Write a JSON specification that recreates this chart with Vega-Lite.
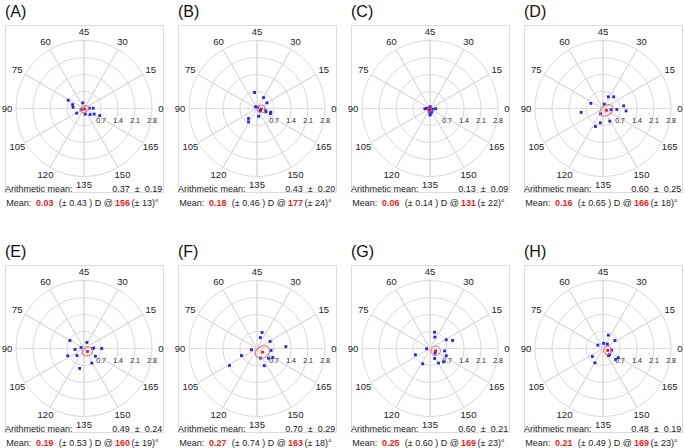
{
"$schema": "https://vega.github.io/schema/vega-lite/v6.json",
"background": "white",
"padding": {"left": 1, "top": 3, "right": 0, "bottom": 0},
"config": {
 "axis": {"disable": true},
 "legend": {"disable": true},
 "view": {"stroke": "#dcdcdc", "strokeWidth": 1},
 "text": {"font": "Liberation Sans", "fontSize": 9, "color": "#222"},
 "title": {"font": "Liberation Sans", "fontSize": 16, "fontWeight": "normal", "anchor": "start", "frame": "group", "offset": 5, "baseline": "bottom", "color": "#111"}
},
"datasets": {
 "rings": [{"r": 0.7}, {"r": 1.4}, {"r": 2.1}, {"r": 2.8}],
 "spokes": [{"deg": 0}, {"deg": 15}, {"deg": 30}, {"deg": 45}, {"deg": 60}, {"deg": 75}, {"deg": 90}, {"deg": 105}, {"deg": 120}, {"deg": 135}, {"deg": 150}, {"deg": 165}],
 "pts": [
  {"panel":"A","x":-0.65,"y":0.34},{"panel":"A","x":-0.47,"y":0.16},{"panel":"A","x":-0.45,"y":0.05},{"panel":"A","x":-0.05,"y":0.23},{"panel":"A","x":0.22,"y":0.01},{"panel":"A","x":0.38,"y":0.01},{"panel":"A","x":-0.30,"y":-0.19},{"panel":"A","x":0.05,"y":-0.23},{"panel":"A","x":0.25,"y":-0.25},{"panel":"A","x":0.42,"y":-0.23},{"panel":"A","x":0.65,"y":-0.29},{"panel":"A","x":-0.12,"y":-0.04},
  {"panel":"B","x":-0.10,"y":0.66},{"panel":"B","x":0.27,"y":0.45},{"panel":"B","x":0.41,"y":0.23},{"panel":"B","x":-0.06,"y":0.07},{"panel":"B","x":0.03,"y":0.05},{"panel":"B","x":0.34,"y":-0.07},{"panel":"B","x":0.37,"y":-0.13},{"panel":"B","x":0.57,"y":-0.15},{"panel":"B","x":0.55,"y":-0.21},{"panel":"B","x":0.14,"y":-0.08},{"panel":"B","x":0.07,"y":-0.32},{"panel":"B","x":-0.35,"y":-0.41},{"panel":"B","x":-0.35,"y":-0.55},
  {"panel":"C","x":-0.21,"y":-0.01},{"panel":"C","x":-0.11,"y":0.01},{"panel":"C","x":0.01,"y":0.07},{"panel":"C","x":0.10,"y":-0.03},{"panel":"C","x":0.23,"y":-0.01},{"panel":"C","x":-0.03,"y":-0.12},{"panel":"C","x":0.07,"y":-0.15},{"panel":"C","x":0.01,"y":-0.23},{"panel":"C","x":0.0,"y":-0.27},{"panel":"C","x":0.0,"y":-0.04},
  {"panel":"D","x":0.22,"y":0.48},{"panel":"D","x":0.44,"y":0.48},{"panel":"D","x":-0.50,"y":0.21},{"panel":"D","x":0.05,"y":0.18},{"panel":"D","x":0.85,"y":0.11},{"panel":"D","x":0.57,"y":-0.04},{"panel":"D","x":0.95,"y":-0.10},{"panel":"D","x":0.33,"y":-0.05},{"panel":"D","x":-0.10,"y":-0.22},{"panel":"D","x":-0.90,"y":-0.16},{"panel":"D","x":0.28,"y":-0.52},{"panel":"D","x":-0.11,"y":-0.59},{"panel":"D","x":-0.31,"y":-0.74},
  {"panel":"E","x":-0.58,"y":0.33},{"panel":"E","x":0.12,"y":0.25},{"panel":"E","x":-0.12,"y":0.04},{"panel":"E","x":-0.37,"y":-0.04},{"panel":"E","x":0.35,"y":0.0},{"panel":"E","x":0.40,"y":0.02},{"panel":"E","x":0.73,"y":0.0},{"panel":"E","x":-0.67,"y":-0.30},{"panel":"E","x":-0.29,"y":-0.29},{"panel":"E","x":0.47,"y":-0.32},{"panel":"E","x":0.32,"y":-0.60},{"panel":"E","x":-0.18,"y":-0.82},
  {"panel":"F","x":0.21,"y":0.66},{"panel":"F","x":0.14,"y":0.45},{"panel":"F","x":0.54,"y":0.29},{"panel":"F","x":1.19,"y":0.08},{"panel":"F","x":-0.23,"y":-0.05},{"panel":"F","x":0.58,"y":-0.08},{"panel":"F","x":-0.64,"y":-0.29},{"panel":"F","x":0.14,"y":-0.40},{"panel":"F","x":0.47,"y":-0.40},{"panel":"F","x":0.65,"y":-0.37},{"panel":"F","x":0.30,"y":-0.71},{"panel":"F","x":-1.13,"y":-0.70},
  {"panel":"G","x":0.19,"y":0.67},{"panel":"G","x":0.20,"y":0.47},{"panel":"G","x":0.67,"y":0.36},{"panel":"G","x":0.93,"y":0.33},{"panel":"G","x":-0.14,"y":-0.01},{"panel":"G","x":0.60,"y":-0.10},{"panel":"G","x":-0.60,"y":-0.26},{"panel":"G","x":0.67,"y":-0.30},{"panel":"G","x":0.19,"y":-0.41},{"panel":"G","x":0.35,"y":-0.60},{"panel":"G","x":0.56,"y":-0.55},{"panel":"G","x":-0.30,"y":-0.63},{"panel":"G","x":0.21,"y":-0.19},
  {"panel":"H","x":0.22,"y":0.55},{"panel":"H","x":0.49,"y":0.33},{"panel":"H","x":0.03,"y":0.21},{"panel":"H","x":-0.21,"y":0.14},{"panel":"H","x":0.18,"y":0.18},{"panel":"H","x":0.36,"y":-0.07},{"panel":"H","x":0.27,"y":-0.25},{"panel":"H","x":0.23,"y":-0.29},{"panel":"H","x":-0.44,"y":-0.33},{"panel":"H","x":-0.33,"y":-0.59},{"panel":"H","x":0.52,"y":-0.45},{"panel":"H","x":0.63,"y":-0.38}
 ],
 "means": [
  {"panel":"A","x":0.020,"y":-0.022},{"panel":"B","x":0.179,"y":-0.019},{"panel":"C","x":-0.008,"y":-0.059},{"panel":"D","x":0.141,"y":-0.075},
  {"panel":"E","x":0.146,"y":-0.122},{"panel":"F","x":0.224,"y":-0.151},{"panel":"G","x":0.232,"y":-0.094},{"panel":"H","x":0.195,"y":-0.079}
 ],
 "txt": [
  {"panel":"A","arith":"0.37\u00a0\u00a0±\u00a0\u00a00.19","m":"0.03","msd":"(±\u00a00.43\u00a0)\u00a0D\u00a0@","ang":"156","asd":"(±\u00a013)°"},
  {"panel":"B","arith":"0.43\u00a0\u00a0±\u00a0\u00a00.20","m":"0.18","msd":"(±\u00a00.46\u00a0)\u00a0D\u00a0@","ang":"177","asd":"(±\u00a024)°"},
  {"panel":"C","arith":"0.13\u00a0\u00a0±\u00a0\u00a00.09","m":"0.06","msd":"(±\u00a00.14\u00a0)\u00a0D\u00a0@","ang":"131","asd":"(±\u00a022)°"},
  {"panel":"D","arith":"0.60\u00a0\u00a0±\u00a0\u00a00.25","m":"0.16","msd":"(±\u00a00.65\u00a0)\u00a0D\u00a0@","ang":"166","asd":"(±\u00a018)°"},
  {"panel":"E","arith":"0.49\u00a0\u00a0±\u00a0\u00a00.24","m":"0.19","msd":"(±\u00a00.53\u00a0)\u00a0D\u00a0@","ang":"160","asd":"(±\u00a019)°"},
  {"panel":"F","arith":"0.70\u00a0\u00a0±\u00a0\u00a00.29","m":"0.27","msd":"(±\u00a00.74\u00a0)\u00a0D\u00a0@","ang":"163","asd":"(±\u00a018)°"},
  {"panel":"G","arith":"0.60\u00a0\u00a0±\u00a0\u00a00.21","m":"0.25","msd":"(±\u00a00.60\u00a0)\u00a0D\u00a0@","ang":"169","asd":"(±\u00a023)°"},
  {"panel":"H","arith":"0.48\u00a0\u00a0±\u00a0\u00a00.19","m":"0.21","msd":"(±\u00a00.49\u00a0)\u00a0D\u00a0@","ang":"169","asd":"(±\u00a023)°"}
 ]
},
"columns": 4,
"spacing": {"row": 73, "column": 15},
"bounds": "flush",
"concat": [
 {"width":158,"height":167,"title":{"text":"(A)"},"data":{"name":"txt"},"transform":[{"filter":"datum.panel==='A'"}],
  "layer":[
   {"data":{"name":"rings"},"mark":{"type":"point","shape":"circle","filled":false,"color":"#dadada","strokeWidth":1,"opacity":1},"encoding":{"x":{"datum":0,"type":"quantitative","scale":{"domain":[-3.2529,3.2529],"nice":false,"zero":false}},"y":{"datum":0,"type":"quantitative","scale":{"domain":[-3.4382,3.4382],"nice":false,"zero":false}},"size":{"field":"r","type":"quantitative","scale":{"type":"pow","exponent":2,"domain":[0,2.8],"range":[0,18496],"zero":true}}}},
   {"data":{"name":"spokes"},"mark":{"type":"arc","filled":false,"color":"#dadada","stroke":"#dadada","strokeWidth":1},"encoding":{"theta":{"field":"deg","type":"quantitative","stack":false,"scale":{"type":"linear","domain":[0,180],"range":[1.5708,-4.7124],"zero":false,"nice":false}},"theta2":{"field":"deg"},"radius":{"datum":2.8,"type":"quantitative","scale":{"type":"linear","domain":[0,2.8],"range":[0,68],"zero":true,"nice":false}}}},
   {"data":{"name":"spokes"},"mark":{"type":"text","fontSize":9.5,"align":"center","baseline":"middle"},"encoding":{"theta":{"field":"deg","type":"quantitative","stack":false},"radius":{"datum":3.17,"type":"quantitative"},"text":{"field":"deg","type":"quantitative","format":"d"}}},
   {"data":{"name":"rings"},"mark":{"type":"text","fontSize":7,"align":"center","baseline":"middle"},"encoding":{"x":{"field":"r","type":"quantitative"},"y":{"datum":-0.5,"type":"quantitative"},"text":{"field":"r","type":"quantitative","format":".1f"}}},
   {"data":{"name":"pts"},"transform":[{"filter":"datum.panel==='A'"}],"mark":{"type":"point","shape":"square","filled":true,"size":8,"color":"#2222ff","opacity":1},"encoding":{"x":{"field":"x","type":"quantitative"},"y":{"field":"y","type":"quantitative"}}},
   {"data":{"name":"means"},"transform":[{"filter":"datum.panel==='A'"}],"mark":{"type":"point","shape":"M1,0L0.9239,0.2679L0.7071,0.495L0.3827,0.6467L0,0.7L-0.3827,0.6467L-0.7071,0.495L-0.9239,0.2679L-1,0L-0.9239,-0.2679L-0.7071,-0.495L-0.3827,-0.6467L0,-0.7L0.3827,-0.6467L0.7071,-0.495L0.9239,-0.2679Z","filled":false,"size":81,"angle":325,"color":"#ef6b6b","strokeWidth":1,"opacity":1},"encoding":{"x":{"field":"x","type":"quantitative"},"y":{"field":"y","type":"quantitative"}}},
   {"data":{"name":"means"},"transform":[{"filter":"datum.panel==='A'"}],"mark":{"type":"point","shape":"square","filled":true,"size":7,"color":"#ff0000","opacity":1},"encoding":{"x":{"field":"x","type":"quantitative"},"y":{"field":"y","type":"quantitative"}}},
   {"mark":{"type":"text","align":"left","baseline":"alphabetic","text":"Arithmetic mean:"},"encoding":{"x":{"datum":-3.25},"y":{"datum":-3.418}}},
   {"mark":{"type":"text","align":"right","baseline":"alphabetic"},"encoding":{"x":{"datum":3.224},"y":{"datum":-3.418},"text":{"field":"arith"}}},
   {"mark":{"type":"text","align":"left","baseline":"alphabetic","text":"Mean:"},"encoding":{"x":{"datum":-3.203},"y":{"datum":-4.015}}},
   {"mark":{"type":"text","align":"left","baseline":"alphabetic","fontWeight":"bold","color":"#ff1a1a"},"encoding":{"x":{"datum":-1.976},"y":{"datum":-4.015},"text":{"field":"m"}}},
   {"mark":{"type":"text","align":"left","baseline":"alphabetic"},"encoding":{"x":{"datum":-1.038},"y":{"datum":-4.015},"text":{"field":"msd"}}},
   {"mark":{"type":"text","align":"left","baseline":"alphabetic","fontWeight":"bold","color":"#ff1a1a"},"encoding":{"x":{"datum":1.276},"y":{"datum":-4.015},"text":{"field":"ang"}}},
   {"mark":{"type":"text","align":"left","baseline":"alphabetic"},"encoding":{"x":{"datum":1.956},"y":{"datum":-4.015},"text":{"field":"asd"}}}
  ]},
 {"width":158,"height":167,"title":{"text":"(B)"},"data":{"name":"txt"},"transform":[{"filter":"datum.panel==='B'"}],
  "layer":[
   {"data":{"name":"rings"},"mark":{"type":"point","shape":"circle","filled":false,"color":"#dadada","strokeWidth":1,"opacity":1},"encoding":{"x":{"datum":0,"type":"quantitative","scale":{"domain":[-3.2529,3.2529],"nice":false,"zero":false}},"y":{"datum":0,"type":"quantitative","scale":{"domain":[-3.4382,3.4382],"nice":false,"zero":false}},"size":{"field":"r","type":"quantitative","scale":{"type":"pow","exponent":2,"domain":[0,2.8],"range":[0,18496],"zero":true}}}},
   {"data":{"name":"spokes"},"mark":{"type":"arc","filled":false,"color":"#dadada","stroke":"#dadada","strokeWidth":1},"encoding":{"theta":{"field":"deg","type":"quantitative","stack":false,"scale":{"type":"linear","domain":[0,180],"range":[1.5708,-4.7124],"zero":false,"nice":false}},"theta2":{"field":"deg"},"radius":{"datum":2.8,"type":"quantitative","scale":{"type":"linear","domain":[0,2.8],"range":[0,68],"zero":true,"nice":false}}}},
   {"data":{"name":"spokes"},"mark":{"type":"text","fontSize":9.5,"align":"center","baseline":"middle"},"encoding":{"theta":{"field":"deg","type":"quantitative","stack":false},"radius":{"datum":3.17,"type":"quantitative"},"text":{"field":"deg","type":"quantitative","format":"d"}}},
   {"data":{"name":"rings"},"mark":{"type":"text","fontSize":7,"align":"center","baseline":"middle"},"encoding":{"x":{"field":"r","type":"quantitative"},"y":{"datum":-0.5,"type":"quantitative"},"text":{"field":"r","type":"quantitative","format":".1f"}}},
   {"data":{"name":"pts"},"transform":[{"filter":"datum.panel==='B'"}],"mark":{"type":"point","shape":"square","filled":true,"size":8,"color":"#2222ff","opacity":1},"encoding":{"x":{"field":"x","type":"quantitative"},"y":{"field":"y","type":"quantitative"}}},
   {"data":{"name":"means"},"transform":[{"filter":"datum.panel==='B'"}],"mark":{"type":"point","shape":"circle","filled":false,"size":64,"color":"#ef6b6b","strokeWidth":1,"opacity":1},"encoding":{"x":{"field":"x","type":"quantitative"},"y":{"field":"y","type":"quantitative"}}},
   {"data":{"name":"means"},"transform":[{"filter":"datum.panel==='B'"}],"mark":{"type":"point","shape":"square","filled":true,"size":7,"color":"#ff0000","opacity":1},"encoding":{"x":{"field":"x","type":"quantitative"},"y":{"field":"y","type":"quantitative"}}},
   {"mark":{"type":"text","align":"left","baseline":"alphabetic","text":"Arithmetic mean:"},"encoding":{"x":{"datum":-3.25},"y":{"datum":-3.418}}},
   {"mark":{"type":"text","align":"right","baseline":"alphabetic"},"encoding":{"x":{"datum":3.224},"y":{"datum":-3.418},"text":{"field":"arith"}}},
   {"mark":{"type":"text","align":"left","baseline":"alphabetic","text":"Mean:"},"encoding":{"x":{"datum":-3.203},"y":{"datum":-4.015}}},
   {"mark":{"type":"text","align":"left","baseline":"alphabetic","fontWeight":"bold","color":"#ff1a1a"},"encoding":{"x":{"datum":-1.976},"y":{"datum":-4.015},"text":{"field":"m"}}},
   {"mark":{"type":"text","align":"left","baseline":"alphabetic"},"encoding":{"x":{"datum":-1.038},"y":{"datum":-4.015},"text":{"field":"msd"}}},
   {"mark":{"type":"text","align":"left","baseline":"alphabetic","fontWeight":"bold","color":"#ff1a1a"},"encoding":{"x":{"datum":1.276},"y":{"datum":-4.015},"text":{"field":"ang"}}},
   {"mark":{"type":"text","align":"left","baseline":"alphabetic"},"encoding":{"x":{"datum":1.956},"y":{"datum":-4.015},"text":{"field":"asd"}}}
  ]},
 {"width":158,"height":167,"title":{"text":"(C)"},"data":{"name":"txt"},"transform":[{"filter":"datum.panel==='C'"}],
  "layer":[
   {"data":{"name":"rings"},"mark":{"type":"point","shape":"circle","filled":false,"color":"#dadada","strokeWidth":1,"opacity":1},"encoding":{"x":{"datum":0,"type":"quantitative","scale":{"domain":[-3.2529,3.2529],"nice":false,"zero":false}},"y":{"datum":0,"type":"quantitative","scale":{"domain":[-3.4382,3.4382],"nice":false,"zero":false}},"size":{"field":"r","type":"quantitative","scale":{"type":"pow","exponent":2,"domain":[0,2.8],"range":[0,18496],"zero":true}}}},
   {"data":{"name":"spokes"},"mark":{"type":"arc","filled":false,"color":"#dadada","stroke":"#dadada","strokeWidth":1},"encoding":{"theta":{"field":"deg","type":"quantitative","stack":false,"scale":{"type":"linear","domain":[0,180],"range":[1.5708,-4.7124],"zero":false,"nice":false}},"theta2":{"field":"deg"},"radius":{"datum":2.8,"type":"quantitative","scale":{"type":"linear","domain":[0,2.8],"range":[0,68],"zero":true,"nice":false}}}},
   {"data":{"name":"spokes"},"mark":{"type":"text","fontSize":9.5,"align":"center","baseline":"middle"},"encoding":{"theta":{"field":"deg","type":"quantitative","stack":false},"radius":{"datum":3.17,"type":"quantitative"},"text":{"field":"deg","type":"quantitative","format":"d"}}},
   {"data":{"name":"rings"},"mark":{"type":"text","fontSize":7,"align":"center","baseline":"middle"},"encoding":{"x":{"field":"r","type":"quantitative"},"y":{"datum":-0.5,"type":"quantitative"},"text":{"field":"r","type":"quantitative","format":".1f"}}},
   {"data":{"name":"pts"},"transform":[{"filter":"datum.panel==='C'"}],"mark":{"type":"point","shape":"square","filled":true,"size":8,"color":"#2222ff","opacity":1},"encoding":{"x":{"field":"x","type":"quantitative"},"y":{"field":"y","type":"quantitative"}}},
   {"data":{"name":"means"},"transform":[{"filter":"datum.panel==='C'"}],"mark":{"type":"point","shape":"circle","filled":false,"size":18,"color":"#ef6b6b","strokeWidth":1,"opacity":1},"encoding":{"x":{"field":"x","type":"quantitative"},"y":{"field":"y","type":"quantitative"}}},
   {"data":{"name":"means"},"transform":[{"filter":"datum.panel==='C'"}],"mark":{"type":"point","shape":"square","filled":true,"size":7,"color":"#ff0000","opacity":1},"encoding":{"x":{"field":"x","type":"quantitative"},"y":{"field":"y","type":"quantitative"}}},
   {"mark":{"type":"text","align":"left","baseline":"alphabetic","text":"Arithmetic mean:"},"encoding":{"x":{"datum":-3.25},"y":{"datum":-3.418}}},
   {"mark":{"type":"text","align":"right","baseline":"alphabetic"},"encoding":{"x":{"datum":3.224},"y":{"datum":-3.418},"text":{"field":"arith"}}},
   {"mark":{"type":"text","align":"left","baseline":"alphabetic","text":"Mean:"},"encoding":{"x":{"datum":-3.203},"y":{"datum":-4.015}}},
   {"mark":{"type":"text","align":"left","baseline":"alphabetic","fontWeight":"bold","color":"#ff1a1a"},"encoding":{"x":{"datum":-1.976},"y":{"datum":-4.015},"text":{"field":"m"}}},
   {"mark":{"type":"text","align":"left","baseline":"alphabetic"},"encoding":{"x":{"datum":-1.038},"y":{"datum":-4.015},"text":{"field":"msd"}}},
   {"mark":{"type":"text","align":"left","baseline":"alphabetic","fontWeight":"bold","color":"#ff1a1a"},"encoding":{"x":{"datum":1.276},"y":{"datum":-4.015},"text":{"field":"ang"}}},
   {"mark":{"type":"text","align":"left","baseline":"alphabetic"},"encoding":{"x":{"datum":1.956},"y":{"datum":-4.015},"text":{"field":"asd"}}}
  ]},
 {"width":158,"height":167,"title":{"text":"(D)"},"data":{"name":"txt"},"transform":[{"filter":"datum.panel==='D'"}],
  "layer":[
   {"data":{"name":"rings"},"mark":{"type":"point","shape":"circle","filled":false,"color":"#dadada","strokeWidth":1,"opacity":1},"encoding":{"x":{"datum":0,"type":"quantitative","scale":{"domain":[-3.2529,3.2529],"nice":false,"zero":false}},"y":{"datum":0,"type":"quantitative","scale":{"domain":[-3.4382,3.4382],"nice":false,"zero":false}},"size":{"field":"r","type":"quantitative","scale":{"type":"pow","exponent":2,"domain":[0,2.8],"range":[0,18496],"zero":true}}}},
   {"data":{"name":"spokes"},"mark":{"type":"arc","filled":false,"color":"#dadada","stroke":"#dadada","strokeWidth":1},"encoding":{"theta":{"field":"deg","type":"quantitative","stack":false,"scale":{"type":"linear","domain":[0,180],"range":[1.5708,-4.7124],"zero":false,"nice":false}},"theta2":{"field":"deg"},"radius":{"datum":2.8,"type":"quantitative","scale":{"type":"linear","domain":[0,2.8],"range":[0,68],"zero":true,"nice":false}}}},
   {"data":{"name":"spokes"},"mark":{"type":"text","fontSize":9.5,"align":"center","baseline":"middle"},"encoding":{"theta":{"field":"deg","type":"quantitative","stack":false},"radius":{"datum":3.17,"type":"quantitative"},"text":{"field":"deg","type":"quantitative","format":"d"}}},
   {"data":{"name":"rings"},"mark":{"type":"text","fontSize":7,"align":"center","baseline":"middle"},"encoding":{"x":{"field":"r","type":"quantitative"},"y":{"datum":-0.5,"type":"quantitative"},"text":{"field":"r","type":"quantitative","format":".1f"}}},
   {"data":{"name":"pts"},"transform":[{"filter":"datum.panel==='D'"}],"mark":{"type":"point","shape":"square","filled":true,"size":8,"color":"#2222ff","opacity":1},"encoding":{"x":{"field":"x","type":"quantitative"},"y":{"field":"y","type":"quantitative"}}},
   {"data":{"name":"means"},"transform":[{"filter":"datum.panel==='D'"}],"mark":{"type":"point","shape":"M1,0L0.9239,0.2679L0.7071,0.495L0.3827,0.6467L0,0.7L-0.3827,0.6467L-0.7071,0.495L-0.9239,0.2679L-1,0L-0.9239,-0.2679L-0.7071,-0.495L-0.3827,-0.6467L0,-0.7L0.3827,-0.6467L0.7071,-0.495L0.9239,-0.2679Z","filled":false,"size":210,"angle":325,"color":"#ef6b6b","strokeWidth":1,"opacity":1},"encoding":{"x":{"field":"x","type":"quantitative"},"y":{"field":"y","type":"quantitative"}}},
   {"data":{"name":"means"},"transform":[{"filter":"datum.panel==='D'"}],"mark":{"type":"point","shape":"square","filled":true,"size":7,"color":"#ff0000","opacity":1},"encoding":{"x":{"field":"x","type":"quantitative"},"y":{"field":"y","type":"quantitative"}}},
   {"mark":{"type":"text","align":"left","baseline":"alphabetic","text":"Arithmetic mean:"},"encoding":{"x":{"datum":-3.25},"y":{"datum":-3.418}}},
   {"mark":{"type":"text","align":"right","baseline":"alphabetic"},"encoding":{"x":{"datum":3.224},"y":{"datum":-3.418},"text":{"field":"arith"}}},
   {"mark":{"type":"text","align":"left","baseline":"alphabetic","text":"Mean:"},"encoding":{"x":{"datum":-3.203},"y":{"datum":-4.015}}},
   {"mark":{"type":"text","align":"left","baseline":"alphabetic","fontWeight":"bold","color":"#ff1a1a"},"encoding":{"x":{"datum":-1.976},"y":{"datum":-4.015},"text":{"field":"m"}}},
   {"mark":{"type":"text","align":"left","baseline":"alphabetic"},"encoding":{"x":{"datum":-1.038},"y":{"datum":-4.015},"text":{"field":"msd"}}},
   {"mark":{"type":"text","align":"left","baseline":"alphabetic","fontWeight":"bold","color":"#ff1a1a"},"encoding":{"x":{"datum":1.276},"y":{"datum":-4.015},"text":{"field":"ang"}}},
   {"mark":{"type":"text","align":"left","baseline":"alphabetic"},"encoding":{"x":{"datum":1.956},"y":{"datum":-4.015},"text":{"field":"asd"}}}
  ]},
 {"width":158,"height":167,"title":{"text":"(E)"},"data":{"name":"txt"},"transform":[{"filter":"datum.panel==='E'"}],
  "layer":[
   {"data":{"name":"rings"},"mark":{"type":"point","shape":"circle","filled":false,"color":"#dadada","strokeWidth":1,"opacity":1},"encoding":{"x":{"datum":0,"type":"quantitative","scale":{"domain":[-3.2529,3.2529],"nice":false,"zero":false}},"y":{"datum":0,"type":"quantitative","scale":{"domain":[-3.4382,3.4382],"nice":false,"zero":false}},"size":{"field":"r","type":"quantitative","scale":{"type":"pow","exponent":2,"domain":[0,2.8],"range":[0,18496],"zero":true}}}},
   {"data":{"name":"spokes"},"mark":{"type":"arc","filled":false,"color":"#dadada","stroke":"#dadada","strokeWidth":1},"encoding":{"theta":{"field":"deg","type":"quantitative","stack":false,"scale":{"type":"linear","domain":[0,180],"range":[1.5708,-4.7124],"zero":false,"nice":false}},"theta2":{"field":"deg"},"radius":{"datum":2.8,"type":"quantitative","scale":{"type":"linear","domain":[0,2.8],"range":[0,68],"zero":true,"nice":false}}}},
   {"data":{"name":"spokes"},"mark":{"type":"text","fontSize":9.5,"align":"center","baseline":"middle"},"encoding":{"theta":{"field":"deg","type":"quantitative","stack":false},"radius":{"datum":3.17,"type":"quantitative"},"text":{"field":"deg","type":"quantitative","format":"d"}}},
   {"data":{"name":"rings"},"mark":{"type":"text","fontSize":7,"align":"center","baseline":"middle"},"encoding":{"x":{"field":"r","type":"quantitative"},"y":{"datum":-0.5,"type":"quantitative"},"text":{"field":"r","type":"quantitative","format":".1f"}}},
   {"data":{"name":"pts"},"transform":[{"filter":"datum.panel==='E'"}],"mark":{"type":"point","shape":"square","filled":true,"size":8,"color":"#2222ff","opacity":1},"encoding":{"x":{"field":"x","type":"quantitative"},"y":{"field":"y","type":"quantitative"}}},
   {"data":{"name":"means"},"transform":[{"filter":"datum.panel==='E'"}],"mark":{"type":"point","shape":"M1,0L0.9239,0.2985L0.7071,0.5515L0.3827,0.7206L0,0.78L-0.3827,0.7206L-0.7071,0.5515L-0.9239,0.2985L-1,0L-0.9239,-0.2985L-0.7071,-0.5515L-0.3827,-0.7206L0,-0.78L0.3827,-0.7206L0.7071,-0.5515L0.9239,-0.2985Z","filled":false,"size":121,"angle":330,"color":"#ef6b6b","strokeWidth":1,"opacity":1},"encoding":{"x":{"field":"x","type":"quantitative"},"y":{"field":"y","type":"quantitative"}}},
   {"data":{"name":"means"},"transform":[{"filter":"datum.panel==='E'"}],"mark":{"type":"point","shape":"square","filled":true,"size":7,"color":"#ff0000","opacity":1},"encoding":{"x":{"field":"x","type":"quantitative"},"y":{"field":"y","type":"quantitative"}}},
   {"mark":{"type":"text","align":"left","baseline":"alphabetic","text":"Arithmetic mean:"},"encoding":{"x":{"datum":-3.25},"y":{"datum":-3.418}}},
   {"mark":{"type":"text","align":"right","baseline":"alphabetic"},"encoding":{"x":{"datum":3.224},"y":{"datum":-3.418},"text":{"field":"arith"}}},
   {"mark":{"type":"text","align":"left","baseline":"alphabetic","text":"Mean:"},"encoding":{"x":{"datum":-3.203},"y":{"datum":-4.015}}},
   {"mark":{"type":"text","align":"left","baseline":"alphabetic","fontWeight":"bold","color":"#ff1a1a"},"encoding":{"x":{"datum":-1.976},"y":{"datum":-4.015},"text":{"field":"m"}}},
   {"mark":{"type":"text","align":"left","baseline":"alphabetic"},"encoding":{"x":{"datum":-1.038},"y":{"datum":-4.015},"text":{"field":"msd"}}},
   {"mark":{"type":"text","align":"left","baseline":"alphabetic","fontWeight":"bold","color":"#ff1a1a"},"encoding":{"x":{"datum":1.276},"y":{"datum":-4.015},"text":{"field":"ang"}}},
   {"mark":{"type":"text","align":"left","baseline":"alphabetic"},"encoding":{"x":{"datum":1.956},"y":{"datum":-4.015},"text":{"field":"asd"}}}
  ]},
 {"width":158,"height":167,"title":{"text":"(F)"},"data":{"name":"txt"},"transform":[{"filter":"datum.panel==='F'"}],
  "layer":[
   {"data":{"name":"rings"},"mark":{"type":"point","shape":"circle","filled":false,"color":"#dadada","strokeWidth":1,"opacity":1},"encoding":{"x":{"datum":0,"type":"quantitative","scale":{"domain":[-3.2529,3.2529],"nice":false,"zero":false}},"y":{"datum":0,"type":"quantitative","scale":{"domain":[-3.4382,3.4382],"nice":false,"zero":false}},"size":{"field":"r","type":"quantitative","scale":{"type":"pow","exponent":2,"domain":[0,2.8],"range":[0,18496],"zero":true}}}},
   {"data":{"name":"spokes"},"mark":{"type":"arc","filled":false,"color":"#dadada","stroke":"#dadada","strokeWidth":1},"encoding":{"theta":{"field":"deg","type":"quantitative","stack":false,"scale":{"type":"linear","domain":[0,180],"range":[1.5708,-4.7124],"zero":false,"nice":false}},"theta2":{"field":"deg"},"radius":{"datum":2.8,"type":"quantitative","scale":{"type":"linear","domain":[0,2.8],"range":[0,68],"zero":true,"nice":false}}}},
   {"data":{"name":"spokes"},"mark":{"type":"text","fontSize":9.5,"align":"center","baseline":"middle"},"encoding":{"theta":{"field":"deg","type":"quantitative","stack":false},"radius":{"datum":3.17,"type":"quantitative"},"text":{"field":"deg","type":"quantitative","format":"d"}}},
   {"data":{"name":"rings"},"mark":{"type":"text","fontSize":7,"align":"center","baseline":"middle"},"encoding":{"x":{"field":"r","type":"quantitative"},"y":{"datum":-0.5,"type":"quantitative"},"text":{"field":"r","type":"quantitative","format":".1f"}}},
   {"data":{"name":"pts"},"transform":[{"filter":"datum.panel==='F'"}],"mark":{"type":"point","shape":"square","filled":true,"size":8,"color":"#2222ff","opacity":1},"encoding":{"x":{"field":"x","type":"quantitative"},"y":{"field":"y","type":"quantitative"}}},
   {"data":{"name":"means"},"transform":[{"filter":"datum.panel==='F'"}],"mark":{"type":"point","shape":"M1,0L0.9239,0.2985L0.7071,0.5515L0.3827,0.7206L0,0.78L-0.3827,0.7206L-0.7071,0.5515L-0.9239,0.2985L-1,0L-0.9239,-0.2985L-0.7071,-0.5515L-0.3827,-0.7206L0,-0.78L0.3827,-0.7206L0.7071,-0.5515L0.9239,-0.2985Z","filled":false,"size":231,"angle":330,"color":"#ef6b6b","strokeWidth":1,"opacity":1},"encoding":{"x":{"field":"x","type":"quantitative"},"y":{"field":"y","type":"quantitative"}}},
   {"data":{"name":"means"},"transform":[{"filter":"datum.panel==='F'"}],"mark":{"type":"point","shape":"square","filled":true,"size":7,"color":"#ff0000","opacity":1},"encoding":{"x":{"field":"x","type":"quantitative"},"y":{"field":"y","type":"quantitative"}}},
   {"mark":{"type":"text","align":"left","baseline":"alphabetic","text":"Arithmetic mean:"},"encoding":{"x":{"datum":-3.25},"y":{"datum":-3.418}}},
   {"mark":{"type":"text","align":"right","baseline":"alphabetic"},"encoding":{"x":{"datum":3.224},"y":{"datum":-3.418},"text":{"field":"arith"}}},
   {"mark":{"type":"text","align":"left","baseline":"alphabetic","text":"Mean:"},"encoding":{"x":{"datum":-3.203},"y":{"datum":-4.015}}},
   {"mark":{"type":"text","align":"left","baseline":"alphabetic","fontWeight":"bold","color":"#ff1a1a"},"encoding":{"x":{"datum":-1.976},"y":{"datum":-4.015},"text":{"field":"m"}}},
   {"mark":{"type":"text","align":"left","baseline":"alphabetic"},"encoding":{"x":{"datum":-1.038},"y":{"datum":-4.015},"text":{"field":"msd"}}},
   {"mark":{"type":"text","align":"left","baseline":"alphabetic","fontWeight":"bold","color":"#ff1a1a"},"encoding":{"x":{"datum":1.276},"y":{"datum":-4.015},"text":{"field":"ang"}}},
   {"mark":{"type":"text","align":"left","baseline":"alphabetic"},"encoding":{"x":{"datum":1.956},"y":{"datum":-4.015},"text":{"field":"asd"}}}
  ]},
 {"width":158,"height":167,"title":{"text":"(G)"},"data":{"name":"txt"},"transform":[{"filter":"datum.panel==='G'"}],
  "layer":[
   {"data":{"name":"rings"},"mark":{"type":"point","shape":"circle","filled":false,"color":"#dadada","strokeWidth":1,"opacity":1},"encoding":{"x":{"datum":0,"type":"quantitative","scale":{"domain":[-3.2529,3.2529],"nice":false,"zero":false}},"y":{"datum":0,"type":"quantitative","scale":{"domain":[-3.4382,3.4382],"nice":false,"zero":false}},"size":{"field":"r","type":"quantitative","scale":{"type":"pow","exponent":2,"domain":[0,2.8],"range":[0,18496],"zero":true}}}},
   {"data":{"name":"spokes"},"mark":{"type":"arc","filled":false,"color":"#dadada","stroke":"#dadada","strokeWidth":1},"encoding":{"theta":{"field":"deg","type":"quantitative","stack":false,"scale":{"type":"linear","domain":[0,180],"range":[1.5708,-4.7124],"zero":false,"nice":false}},"theta2":{"field":"deg"},"radius":{"datum":2.8,"type":"quantitative","scale":{"type":"linear","domain":[0,2.8],"range":[0,68],"zero":true,"nice":false}}}},
   {"data":{"name":"spokes"},"mark":{"type":"text","fontSize":9.5,"align":"center","baseline":"middle"},"encoding":{"theta":{"field":"deg","type":"quantitative","stack":false},"radius":{"datum":3.17,"type":"quantitative"},"text":{"field":"deg","type":"quantitative","format":"d"}}},
   {"data":{"name":"rings"},"mark":{"type":"text","fontSize":7,"align":"center","baseline":"middle"},"encoding":{"x":{"field":"r","type":"quantitative"},"y":{"datum":-0.5,"type":"quantitative"},"text":{"field":"r","type":"quantitative","format":".1f"}}},
   {"data":{"name":"pts"},"transform":[{"filter":"datum.panel==='G'"}],"mark":{"type":"point","shape":"square","filled":true,"size":8,"color":"#2222ff","opacity":1},"encoding":{"x":{"field":"x","type":"quantitative"},"y":{"field":"y","type":"quantitative"}}},
   {"data":{"name":"means"},"transform":[{"filter":"datum.panel==='G'"}],"mark":{"type":"point","shape":"circle","filled":false,"size":90,"color":"#ef6b6b","strokeWidth":1,"opacity":1},"encoding":{"x":{"field":"x","type":"quantitative"},"y":{"field":"y","type":"quantitative"}}},
   {"data":{"name":"means"},"transform":[{"filter":"datum.panel==='G'"}],"mark":{"type":"point","shape":"square","filled":true,"size":7,"color":"#ff0000","opacity":1},"encoding":{"x":{"field":"x","type":"quantitative"},"y":{"field":"y","type":"quantitative"}}},
   {"mark":{"type":"text","align":"left","baseline":"alphabetic","text":"Arithmetic mean:"},"encoding":{"x":{"datum":-3.25},"y":{"datum":-3.418}}},
   {"mark":{"type":"text","align":"right","baseline":"alphabetic"},"encoding":{"x":{"datum":3.224},"y":{"datum":-3.418},"text":{"field":"arith"}}},
   {"mark":{"type":"text","align":"left","baseline":"alphabetic","text":"Mean:"},"encoding":{"x":{"datum":-3.203},"y":{"datum":-4.015}}},
   {"mark":{"type":"text","align":"left","baseline":"alphabetic","fontWeight":"bold","color":"#ff1a1a"},"encoding":{"x":{"datum":-1.976},"y":{"datum":-4.015},"text":{"field":"m"}}},
   {"mark":{"type":"text","align":"left","baseline":"alphabetic"},"encoding":{"x":{"datum":-1.038},"y":{"datum":-4.015},"text":{"field":"msd"}}},
   {"mark":{"type":"text","align":"left","baseline":"alphabetic","fontWeight":"bold","color":"#ff1a1a"},"encoding":{"x":{"datum":1.276},"y":{"datum":-4.015},"text":{"field":"ang"}}},
   {"mark":{"type":"text","align":"left","baseline":"alphabetic"},"encoding":{"x":{"datum":1.956},"y":{"datum":-4.015},"text":{"field":"asd"}}}
  ]},
 {"width":158,"height":167,"title":{"text":"(H)"},"data":{"name":"txt"},"transform":[{"filter":"datum.panel==='H'"}],
  "layer":[
   {"data":{"name":"rings"},"mark":{"type":"point","shape":"circle","filled":false,"color":"#dadada","strokeWidth":1,"opacity":1},"encoding":{"x":{"datum":0,"type":"quantitative","scale":{"domain":[-3.2529,3.2529],"nice":false,"zero":false}},"y":{"datum":0,"type":"quantitative","scale":{"domain":[-3.4382,3.4382],"nice":false,"zero":false}},"size":{"field":"r","type":"quantitative","scale":{"type":"pow","exponent":2,"domain":[0,2.8],"range":[0,18496],"zero":true}}}},
   {"data":{"name":"spokes"},"mark":{"type":"arc","filled":false,"color":"#dadada","stroke":"#dadada","strokeWidth":1},"encoding":{"theta":{"field":"deg","type":"quantitative","stack":false,"scale":{"type":"linear","domain":[0,180],"range":[1.5708,-4.7124],"zero":false,"nice":false}},"theta2":{"field":"deg"},"radius":{"datum":2.8,"type":"quantitative","scale":{"type":"linear","domain":[0,2.8],"range":[0,68],"zero":true,"nice":false}}}},
   {"data":{"name":"spokes"},"mark":{"type":"text","fontSize":9.5,"align":"center","baseline":"middle"},"encoding":{"theta":{"field":"deg","type":"quantitative","stack":false},"radius":{"datum":3.17,"type":"quantitative"},"text":{"field":"deg","type":"quantitative","format":"d"}}},
   {"data":{"name":"rings"},"mark":{"type":"text","fontSize":7,"align":"center","baseline":"middle"},"encoding":{"x":{"field":"r","type":"quantitative"},"y":{"datum":-0.5,"type":"quantitative"},"text":{"field":"r","type":"quantitative","format":".1f"}}},
   {"data":{"name":"pts"},"transform":[{"filter":"datum.panel==='H'"}],"mark":{"type":"point","shape":"square","filled":true,"size":8,"color":"#2222ff","opacity":1},"encoding":{"x":{"field":"x","type":"quantitative"},"y":{"field":"y","type":"quantitative"}}},
   {"data":{"name":"means"},"transform":[{"filter":"datum.panel==='H'"}],"mark":{"type":"point","shape":"circle","filled":false,"size":70,"color":"#ef6b6b","strokeWidth":1,"opacity":1},"encoding":{"x":{"field":"x","type":"quantitative"},"y":{"field":"y","type":"quantitative"}}},
   {"data":{"name":"means"},"transform":[{"filter":"datum.panel==='H'"}],"mark":{"type":"point","shape":"square","filled":true,"size":7,"color":"#ff0000","opacity":1},"encoding":{"x":{"field":"x","type":"quantitative"},"y":{"field":"y","type":"quantitative"}}},
   {"mark":{"type":"text","align":"left","baseline":"alphabetic","text":"Arithmetic mean:"},"encoding":{"x":{"datum":-3.25},"y":{"datum":-3.418}}},
   {"mark":{"type":"text","align":"right","baseline":"alphabetic"},"encoding":{"x":{"datum":3.224},"y":{"datum":-3.418},"text":{"field":"arith"}}},
   {"mark":{"type":"text","align":"left","baseline":"alphabetic","text":"Mean:"},"encoding":{"x":{"datum":-3.203},"y":{"datum":-4.015}}},
   {"mark":{"type":"text","align":"left","baseline":"alphabetic","fontWeight":"bold","color":"#ff1a1a"},"encoding":{"x":{"datum":-1.976},"y":{"datum":-4.015},"text":{"field":"m"}}},
   {"mark":{"type":"text","align":"left","baseline":"alphabetic"},"encoding":{"x":{"datum":-1.038},"y":{"datum":-4.015},"text":{"field":"msd"}}},
   {"mark":{"type":"text","align":"left","baseline":"alphabetic","fontWeight":"bold","color":"#ff1a1a"},"encoding":{"x":{"datum":1.276},"y":{"datum":-4.015},"text":{"field":"ang"}}},
   {"mark":{"type":"text","align":"left","baseline":"alphabetic"},"encoding":{"x":{"datum":1.956},"y":{"datum":-4.015},"text":{"field":"asd"}}}
  ]}
]
}
